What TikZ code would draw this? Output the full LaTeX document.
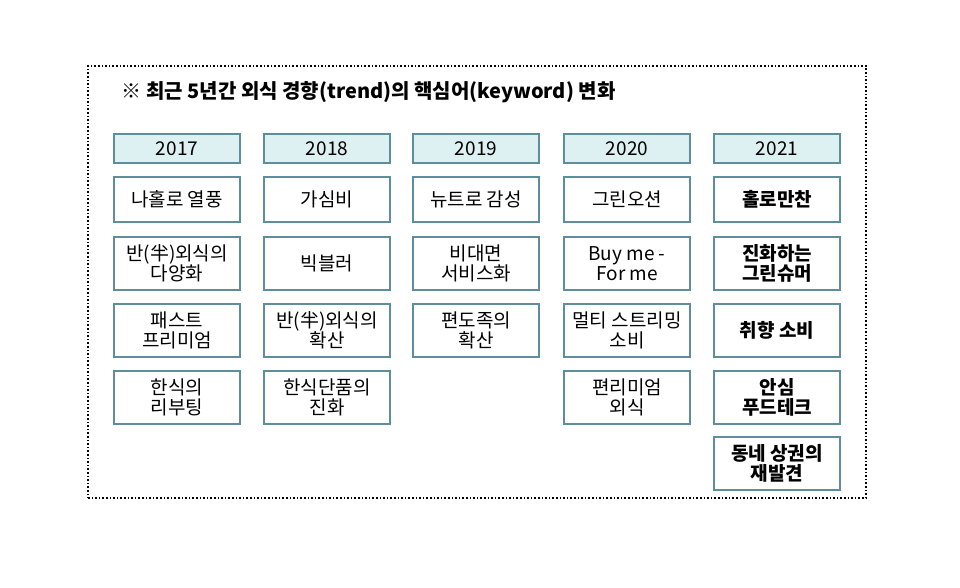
\documentclass[tikz,border=0pt]{standalone}
\usepackage{fontspec}
\setmainfont{Noto Sans CJK KR}
\definecolor{bd}{HTML}{5E8E9C}
\definecolor{yf}{HTML}{DDF0F2}
\tikzset{
 cell/.style={draw=bd,line width=1.3pt,minimum width=126pt,minimum height=#1,align=center,font=\fontsize{19}{20}\selectfont,inner sep=1pt},
 yr/.style={cell=29pt,fill=yf},
 bb/.style={font=\fontsize{19}{20}\selectfont\bfseries}
}
\begin{document}
\begin{tikzpicture}[x=1pt,y=-1pt]
\useasboundingbox (0,0) rectangle (960,587);
\node[draw,dotted,line width=1.6pt,minimum width=778pt,minimum height=432pt,inner sep=0pt] (frame) at (477,282) {};
\node[anchor=west,font=\fontsize{20}{22}\selectfont\bfseries] (title) at (118,92) {※ 최근 5년간 외식 경향(trend)의 핵심어(keyword) 변화};
\foreach \c/\x/\y in {a/177/2017,b/327/2018,c/476/2019,d/627/2020,e/777/2021}{
 \node[yr] (\c0) at (\x,148.5) {\y};
}
\node[cell=45pt] (a1) at (177,199.5) {나홀로 열풍};
\node[cell=53pt] (a2) at (177,263.5) {반(半)외식의\\다양화};
\node[cell=53pt] (a3) at (177,330.5) {패스트\\프리미엄};
\node[cell=53pt] (a4) at (177,397.5) {한식의\\리부팅};
\node[cell=45pt] (b1) at (327,199.5) {가심비};
\node[cell=53pt] (b2) at (327,263.5) {빅블러};
\node[cell=53pt] (b3) at (327,330.5) {반(半)외식의\\확산};
\node[cell=53pt] (b4) at (327,397.5) {한식단품의\\진화};
\node[cell=45pt] (c1) at (476,199.5) {뉴트로 감성};
\node[cell=53pt] (c2) at (476,263.5) {비대면\\서비스화};
\node[cell=53pt] (c3) at (476,330.5) {편도족의\\확산};
\node[cell=45pt] (d1) at (627,199.5) {그린오션};
\node[cell=53pt] (d2) at (627,263.5) {Buy me -\\For me};
\node[cell=53pt] (d3) at (627,330.5) {멀티 스트리밍\\소비};
\node[cell=53pt] (d4) at (627,397.5) {편리미엄\\외식};
\node[cell=45pt,bb] (e1) at (777,199.5) {홀로만찬};
\node[cell=53pt,bb] (e2) at (777,263.5) {진화하는\\그린슈머};
\node[cell=53pt,bb] (e3) at (777,330.5) {취향 소비};
\node[cell=53pt,bb] (e4) at (777,397.5) {안심\\푸드테크};
\node[cell=53pt,bb] (e5) at (777,463.5) {동네 상권의\\재발견};
\end{tikzpicture}
\end{document}
